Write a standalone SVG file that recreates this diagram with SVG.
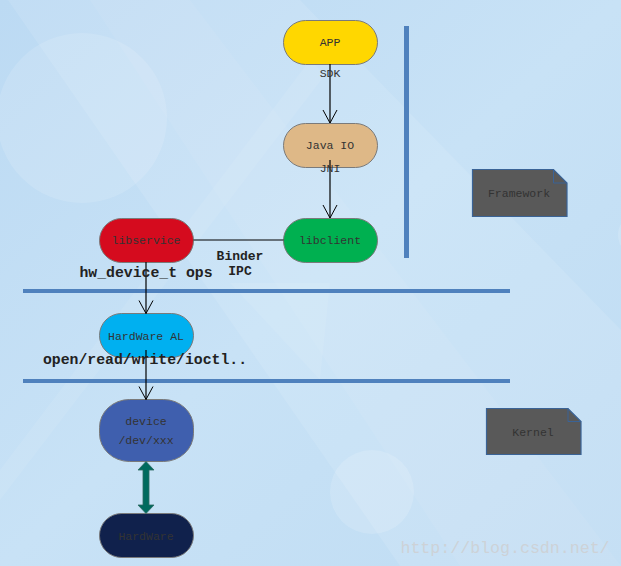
<svg xmlns="http://www.w3.org/2000/svg" width="621" height="566" viewBox="0 0 621 566">
<style>
.node{stroke:#7a7a7a;stroke-width:1}
.t{font-family:"Liberation Mono",monospace;font-size:11.5px;fill:#333;text-anchor:middle}
.b{font-family:"Liberation Mono",monospace;font-weight:bold;fill:#222;text-anchor:middle}
.conn{stroke:#000;stroke-width:1.2;fill:none}
.bar{fill:#4F81BD}
.note{fill:#595959;stroke:#3A6396;stroke-width:1.2}
</style>
<defs>
<linearGradient id="bg" x1="0" y1="0" x2="1" y2="1">
<stop offset="0" stop-color="#BCDAF3"/>
<stop offset="0.5" stop-color="#C8E2F6"/>
<stop offset="1" stop-color="#BFDCF3"/>
</linearGradient>
<marker id="v" markerWidth="16" markerHeight="16" refX="14" refY="8" orient="auto" markerUnits="userSpaceOnUse">
<path d="M1,1 L14,8 L1,15" fill="none" stroke="#000" stroke-width="1"/>
</marker>
</defs>
<g id="background">
<rect width="621" height="566" fill="url(#bg)"/>
<polygon points="8,0 300,0 621,330 621,566 400,566" fill="#fff" opacity="0.1"/>
<polygon points="90,0 190,0 621,566 460,566" fill="#fff" opacity="0.06"/>
<polygon points="0,470 310,60 325,75 0,500" fill="#fff" opacity="0.08"/>
<polygon points="230,283 330,283 320,380" fill="#fff" opacity="0.08"/>
<circle cx="82" cy="118" r="85" fill="#fff" opacity="0.13"/>
<circle cx="372" cy="492" r="42" fill="#fff" opacity="0.15"/>
<circle cx="640" cy="235" r="22" fill="#fff" opacity="0.15"/>
</g>
<g id="separators">
<rect class="bar" x="404" y="26" width="5" height="232"/>
<rect class="bar" x="23" y="289" width="487" height="4"/>
<rect class="bar" x="23" y="379" width="487" height="4"/>
</g>
<g id="app"><rect class="node" x="283.5" y="20.5" width="94" height="44" rx="22" fill="#FFD700"/><text class="t" x="330" y="46">APP</text></g>
<g id="javaio"><rect class="node" x="283.5" y="123.5" width="94" height="44" rx="22" fill="#DEB887"/><text class="t" x="330" y="149">Java IO</text></g>
<g id="libclient"><rect class="node" x="283.5" y="218.5" width="94" height="44" rx="22" fill="#00B050"/><text class="t" x="330" y="244">libclient</text></g>
<g id="libservice"><rect class="node" x="99.5" y="218.5" width="94" height="44" rx="22" fill="#D50B1E"/><text class="t" x="146" y="244">libservice</text></g>
<g id="hwal"><rect class="node" x="99.5" y="313.5" width="94" height="44" rx="22" fill="#00B0F0"/><text class="t" x="146" y="340">HardWare AL</text></g>
<g id="device"><rect class="node" x="99.5" y="399.5" width="94" height="62" rx="30" ry="28" fill="#3F5FAE"/><text class="t" x="146" y="425">device</text><text class="t" x="146" y="444">/dev/xxx</text></g>
<g id="hardware"><rect class="node" x="99.5" y="513.5" width="94" height="44" rx="22" fill="#10214C"/><text class="t" x="146" y="540">HardWare</text></g>
<g id="framework"><path class="note" d="M472.5,169.5 H553.5 L567,183 V216.5 H472.5 Z"/><path d="M553.5,169.5 V183 H567" fill="none" stroke="#3A6396" stroke-width="1"/><text class="t" x="519" y="197">Framework</text></g>
<g id="kernel"><path class="note" d="M486.5,408.5 H568 L581,421.5 V454.5 H486.5 Z"/><path d="M568,408.5 V421.5 H581" fill="none" stroke="#3A6396" stroke-width="1"/><text class="t" x="533" y="436">Kernel</text></g>
<g id="connectors">
<line class="conn" x1="330" y1="64" x2="330" y2="123" marker-end="url(#v)"/>
<line class="conn" x1="330" y1="160" x2="330" y2="218" marker-end="url(#v)"/>
<line class="conn" x1="193.5" y1="240" x2="283.5" y2="240"/>
<line class="conn" x1="146" y1="262" x2="146" y2="313.5" marker-end="url(#v)"/>
<line class="conn" x1="146" y1="350" x2="146" y2="399.5" marker-end="url(#v)"/>
<path d="M146,461.5 L154,470 H149 V505 H154 L146,513.5 L138,505 H143 V470 H138 Z" fill="#006A5E" stroke="#2E6B62" stroke-width="0.8"/>
<text class="t" x="330" y="77">SDK</text>
<text class="t" x="330" y="172">JNI</text>
<text class="b" x="240" y="260" font-size="13">Binder</text>
<text class="b" x="240" y="275" font-size="13">IPC</text>
<text class="b" x="146" y="277" font-size="14.8">hw_device_t ops</text>
<text class="b" x="145" y="364" font-size="14.8">open/read/write/ioctl..</text>
</g>
<text x="505" y="553" font-family="Liberation Mono,monospace" font-size="16.6" fill="#CDD2D7" text-anchor="middle">http://blog.csdn.net/</text>
</svg>
